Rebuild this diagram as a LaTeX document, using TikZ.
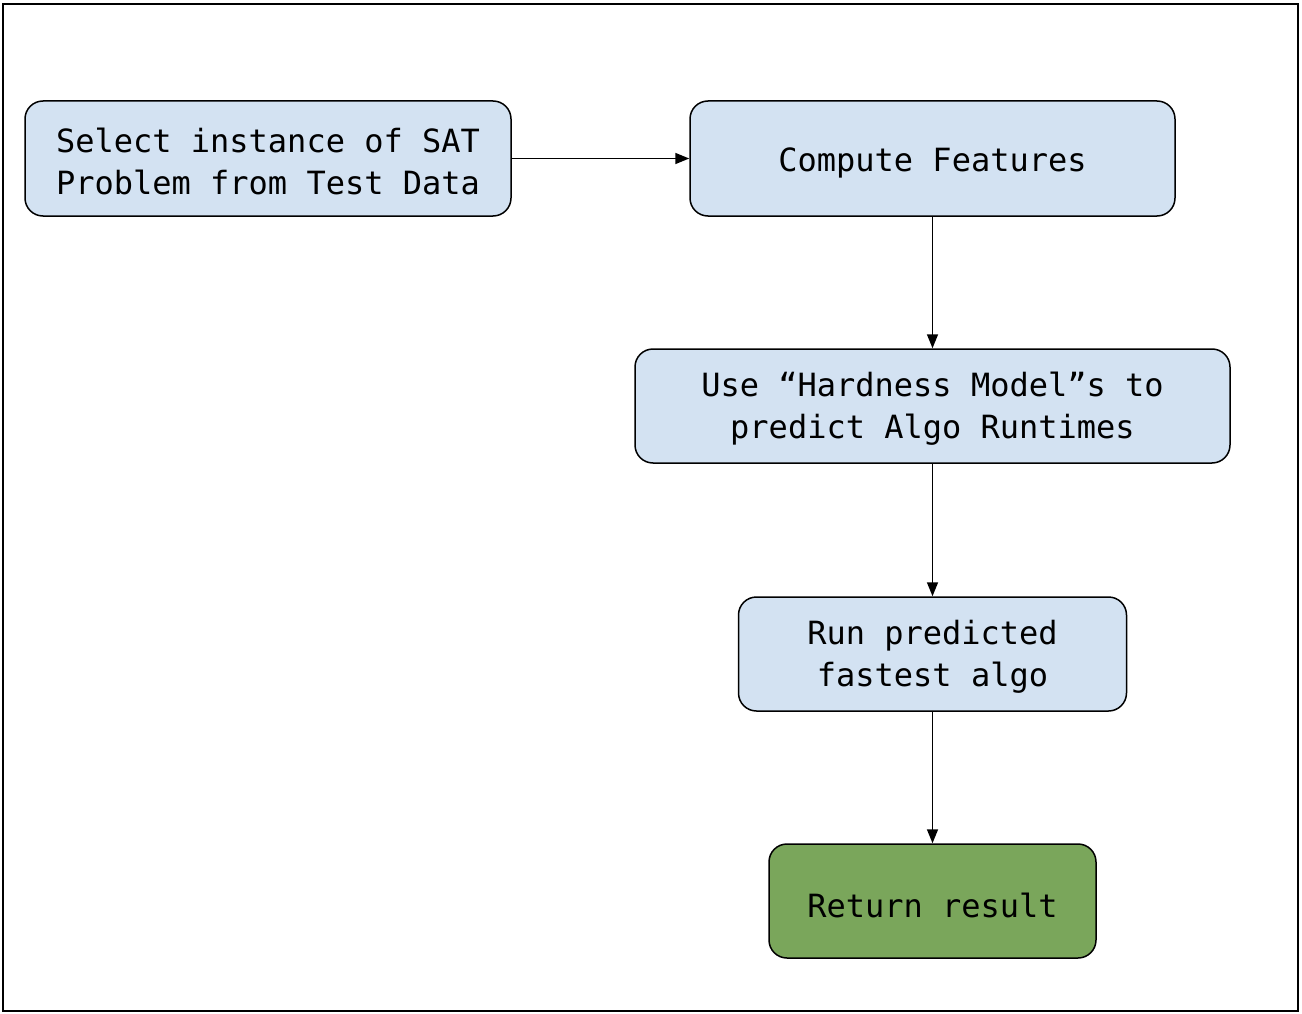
\documentclass[tikz,border=0pt]{standalone}
\usepackage{fontspec}
\setmonofont{DejaVu Sans Mono}
\usetikzlibrary{arrows.meta}
\definecolor{boxblue}{HTML}{D3E2F2}
\definecolor{boxgreen}{HTML}{7AA65B}
\tikzset{
  flowbox/.style={draw=black, line width=1.5pt, rounded corners=18pt, fill=boxblue, inner sep=0pt},
  flowtext/.style={inner sep=0pt, align=center, font=\fontsize{32pt}{42pt}\selectfont\ttfamily},
  flowarrow/.style={line width=1.6pt, -{Triangle[width=11pt,length=14pt]}}
}
\begin{document}
\begin{tikzpicture}[x=1pt,y=-1pt]
\useasboundingbox (0,0) rectangle (1302,1014);
\draw[line width=1.5pt] (3,4) rectangle (1298,1011);
\node[flowbox, minimum width=486pt, minimum height=115pt] (sel) at (268,158.5) {};
\node[flowbox, minimum width=485pt, minimum height=115pt] (feat) at (932.5,158.5) {};
\node[flowbox, minimum width=595pt, minimum height=114pt] (hard) at (932.5,406) {};
\node[flowbox, minimum width=388pt, minimum height=114pt] (run) at (932.5,654) {};
\node[flowbox, fill=boxgreen, minimum width=327pt, minimum height=114pt] (ret) at (932.5,901) {};
\node[flowtext] (selt) at ([yshift=-3pt]sel.center) {Select instance of SAT\\Problem from Test Data};
\node[flowtext] (featt) at ([yshift=-4pt]feat.center) {Compute Features};
\node[flowtext] (hardt) at ([yshift=-3pt]hard.center) {Use “Hardness Model”s to\\predict Algo Runtimes};
\node[flowtext] (runt) at ([yshift=-3pt]run.center) {Run predicted\\fastest algo};
\node[flowtext] (rett) at ([yshift=-4pt]ret.center) {Return result};
\draw[flowarrow] (sel) -- (feat);
\draw[flowarrow] (feat) -- (hard);
\draw[flowarrow] (hard) -- (run);
\draw[flowarrow] (run) -- (ret);
\end{tikzpicture}
\end{document}
